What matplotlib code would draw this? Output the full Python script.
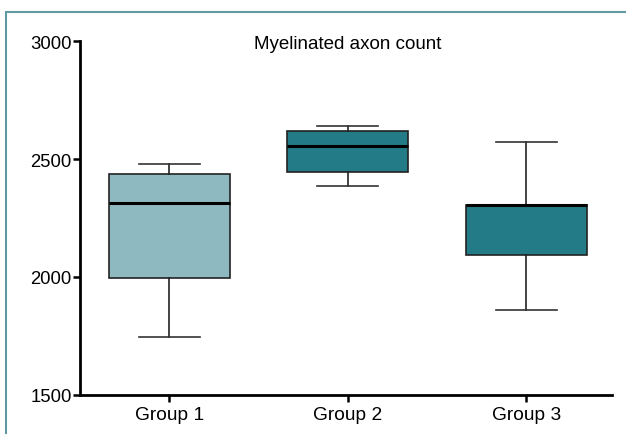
import matplotlib.pyplot as plt
from matplotlib.patches import Rectangle

plt.rcParams['font.family'] = ['Liberation Sans', 'DejaVu Sans']

groups = ["Group 1", "Group 2", "Group 3"]
whisker_low = [1745, 2385, 1862]
q1 = [1996, 2445, 2093]
median = [2315, 2555, 2305]
q3 = [2438, 2620, 2305]
whisker_high = [2480, 2640, 2572]
box_colors = ["#8fb9c0", "#237b87", "#237b87"]

stats = []
for i, name in enumerate(groups):
    stats.append({
        "label": name,
        "whislo": whisker_low[i],
        "q1": q1[i],
        "med": median[i],
        "q3": q3[i],
        "whishi": whisker_high[i],
        "fliers": [],
    })

fig = plt.figure(figsize=(6.26, 4.35), dpi=100)
ax = fig.add_axes([80 / 626, 1 - 396 / 435, 532 / 626, 354 / 435])

bp = ax.bxp(stats, positions=[1, 2, 3], widths=0.68, patch_artist=True,
            showfliers=False,
            boxprops=dict(edgecolor="#222222", linewidth=1.2),
            medianprops=dict(color="black", linewidth=2.2),
            whiskerprops=dict(color="#222222", linewidth=1.2),
            capprops=dict(color="#333333", linewidth=1.2),
            capwidths=0.34)
for patch, c in zip(bp["boxes"], box_colors):
    patch.set_facecolor(c)

ax.set_xlim(0.5, 3.48)
ax.set_ylim(1500, 3000)
ax.set_yticks([1500, 2000, 2500, 3000])
ax.set_xticks([1, 2, 3])
ax.set_xticklabels(groups)
ax.spines["top"].set_visible(False)
ax.spines["right"].set_visible(False)
ax.spines["left"].set_linewidth(2)
ax.spines["bottom"].set_linewidth(2)
ax.tick_params(axis="y", length=5, width=1.8, labelsize=13.3, pad=1)
ax.tick_params(axis="x", length=5, width=1.8, labelsize=13.8, pad=3)

ax.text(2.0, 2990, "Myelinated axon count", ha="center", va="center", fontsize=13.5)

# teal frame around the figure
frame = Rectangle((6 / 626, -0.1), 1.2, 1 - 13 / 435 + 0.1, transform=fig.transFigure,
                  fill=False, edgecolor="#5f9aa3", linewidth=1.5, clip_on=False)
fig.patches.append(frame)

fig.savefig("out.png", dpi=100)
